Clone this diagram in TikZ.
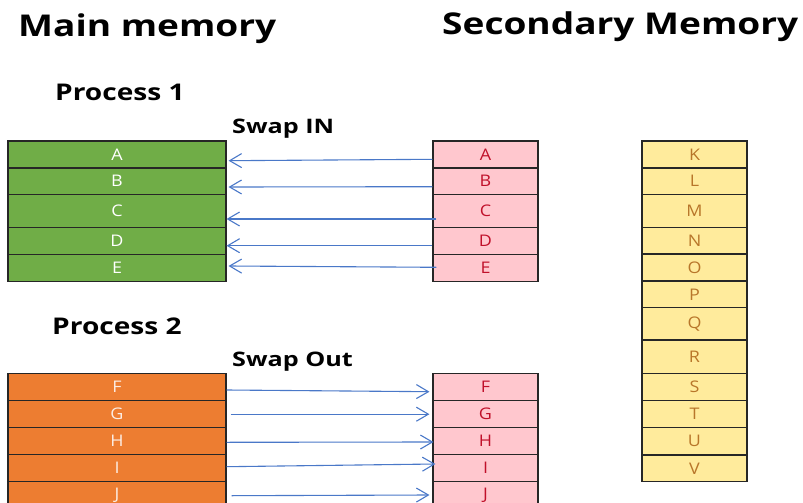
\documentclass[tikz,border=0pt]{standalone}
\usepackage{fontspec}
\setmainfont{Open Sans}
\newfontfamily\headfont[FakeStretch=1.235]{Open Sans}
\newfontfamily\procfont[FakeStretch=1.22]{Open Sans}
\newfontfamily\swapfont[FakeStretch=1.26]{Open Sans}
\newfontfamily\cellfont[FakeStretch=1.12]{Open Sans}
\usetikzlibrary{arrows.meta}

\definecolor{cellgreen}{HTML}{70AD47}
\definecolor{cellorange}{HTML}{ED7D31}
\definecolor{cellpink}{HTML}{FFC7CE}
\definecolor{cellyellow}{HTML}{FFEB9C}
\definecolor{pinktext}{HTML}{C0102A}
\definecolor{yellowtext}{HTML}{B8762A}
\definecolor{orangetext}{HTML}{FCEDE4}
\definecolor{cellborder}{HTML}{262626}
\definecolor{swapblue}{HTML}{4A78C8}

\tikzset{
  cell/.style={draw=cellborder, line width=1.1pt, rectangle, inner sep=0pt,
               font=\cellfont\fontsize{16}{16}\selectfont},
  gcell/.style={cell, fill=cellgreen, text=white, minimum width=218pt},
  ocell/.style={cell, fill=cellorange, text=orangetext, minimum width=218pt},
  pcell/.style={cell, fill=cellpink, text=pinktext, minimum width=105pt},
  ycell/.style={cell, fill=cellyellow, text=yellowtext, minimum width=105pt},
  heading/.style={anchor=base west, inner sep=0pt,
                  font=\headfont\fontsize{30}{30}\selectfont\bfseries},
  proclabel/.style={anchor=base west, inner sep=0pt,
                    font=\procfont\fontsize{23}{23}\selectfont\bfseries},
  swaplabel/.style={anchor=base west, inner sep=0pt,
                    font=\swapfont\fontsize{20}{20}\selectfont\bfseries},
  swap/.style={draw=swapblue, line width=1.1pt,
               -{Straight Barb[length=12pt,width=14pt]}},
}

\begin{document}
\begin{tikzpicture}[x=1pt, y=-1pt]
  \clip (0,0) rectangle (803,503);

  % headings
  \node[heading] (mainhead) at (18,37) {Main memory};
  \node[heading] (sechead) at (442,35) {Secondary Memory};
  \node[proclabel] (proc1) at (55,100) {Process 1};
  \node[swaplabel] (swapin) at (232,133) {Swap IN};
  \node[proclabel] (proc2) at (52,334) {Process 2};
  \node[swaplabel] (swapout) at (232,366) {Swap Out};

  % process 1 in main memory
  \node[gcell, minimum height=27pt]   (gA) at (117,154.5) {A};
  \node[gcell, minimum height=26.3pt] (gB) at (117,181.2) {B};
  \node[gcell, minimum height=33pt]   (gC) at (117,210.8) {C};
  \node[gcell, minimum height=27pt]   (gD) at (117,240.8) {D};
  \node[gcell, minimum height=26.7pt] (gE) at (117,267.7) {E};

  % process 1 pages in secondary memory
  \node[pcell, minimum height=27pt]   (pA) at (485.5,154.5) {A};
  \node[pcell, minimum height=26.3pt] (pB) at (485.5,181.2) {B};
  \node[pcell, minimum height=33pt]   (pC) at (485.5,210.8) {C};
  \node[pcell, minimum height=27pt]   (pD) at (485.5,240.8) {D};
  \node[pcell, minimum height=26.7pt] (pE) at (485.5,267.7) {E};

  % process 2 in main memory
  \node[ocell, minimum height=27.2pt] (oF) at (117,387.1) {F};
  \node[ocell, minimum height=27pt]   (oG) at (117,414.2) {G};
  \node[ocell, minimum height=27pt]   (oH) at (117,441.2) {H};
  \node[ocell, minimum height=27pt]   (oI) at (117,468.2) {I};
  \node[ocell, minimum height=27.3pt] (oJ) at (117,495.3) {J};

  % process 2 pages in secondary memory
  \node[pcell, minimum height=27.2pt] (pF) at (485.5,387.1) {F};
  \node[pcell, minimum height=27pt]   (pG) at (485.5,414.2) {G};
  \node[pcell, minimum height=27pt]   (pH) at (485.5,441.2) {H};
  \node[pcell, minimum height=27pt]   (pI) at (485.5,468.2) {I};
  \node[pcell, minimum height=27.3pt] (pJ) at (485.5,495.3) {J};

  % other pages in secondary memory
  \node[ycell, minimum height=27pt]   (yK) at (694.5,154.5) {K};
  \node[ycell, minimum height=26.3pt] (yL) at (694.5,181.2) {L};
  \node[ycell, minimum height=33pt]   (yM) at (694.5,210.8) {M};
  \node[ycell, minimum height=26.7pt] (yN) at (694.5,240.7) {N};
  \node[ycell, minimum height=27pt]   (yO) at (694.5,267.5) {O};
  \node[ycell, minimum height=26.7pt] (yP) at (694.5,294.3) {P};
  \node[ycell, minimum height=32.3pt] (yQ) at (694.5,323.8) {Q};
  \node[ycell, minimum height=33.3pt] (yR) at (694.5,356.7) {R};
  \node[ycell, minimum height=27.4pt] (yS) at (694.5,387) {S};
  \node[ycell, minimum height=27pt]   (yT) at (694.5,414.2) {T};
  \node[ycell, minimum height=27.3pt] (yU) at (694.5,441.3) {U};
  \node[ycell, minimum height=26.7pt] (yV) at (694.5,468.3) {V};

  % swap in: secondary -> main
  \draw[swap] ([yshift=-4.8pt]pA.west) -- ([xshift=2pt,yshift=-6.2pt]gA.east);
  \draw[swap] ([yshift=-5.5pt]pB.west) -- ([xshift=2pt,yshift=-5.8pt]gB.east);
  \draw[swap] ([xshift=4pt,yshift=-8.2pt]pC.west) -- ([xshift=0pt,yshift=-8.2pt]gC.east);
  \draw[swap] ([yshift=-4.9pt]pD.west) -- ([xshift=0pt,yshift=-4.9pt]gD.east);
  \draw[swap] ([xshift=4pt,yshift=0.4pt]pE.west) -- ([xshift=2pt,yshift=1.7pt]gE.east);

  % swap out: main -> secondary
  \draw[swap] ([yshift=-2.9pt]oF.east) -- ([xshift=-3pt,yshift=-4.6pt]pF.west);
  \draw[swap] ([xshift=4pt]oG.east) -- ([xshift=-3pt]pG.west);
  \draw[swap] ([yshift=-1.1pt]oH.east) -- ([xshift=1pt,yshift=-0.8pt]pH.west);
  \draw[swap] ([yshift=1.5pt]oI.east) -- ([xshift=3pt,yshift=4.2pt]pI.west);
  \draw[swap] ([xshift=5pt,yshift=-0.4pt]oJ.east) -- ([xshift=-3pt,yshift=0.3pt]pJ.west);
\end{tikzpicture}
\end{document}
